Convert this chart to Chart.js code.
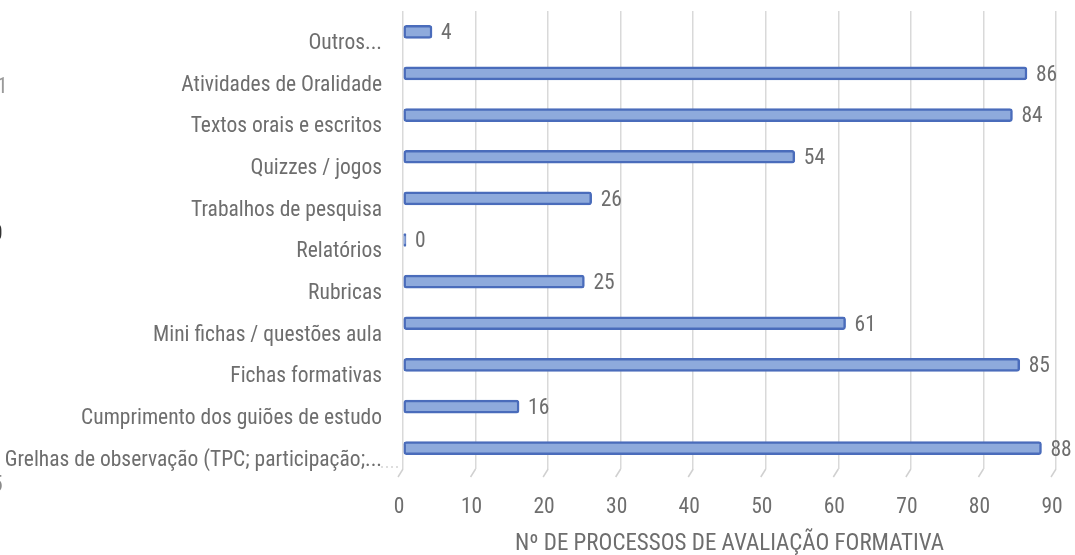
<!DOCTYPE html>
<html>
<head>
<meta charset="utf-8">
<script src="https://cdn.jsdelivr.net/npm/chart.js@4.4.0/dist/chart.umd.min.js"></script>
<style>
  html, body { margin: 0; padding: 0; background: #ffffff; }
  #wrap { width: 1075px; height: 555px; position: relative; }
</style>
</head>
<body>
<div id="wrap"><canvas id="c" width="1075" height="555"></canvas></div>
<script>
const categories = [
  "Outros...",
  "Atividades de Oralidade",
  "Textos orais e escritos",
  "Quizzes / jogos",
  "Trabalhos de pesquisa",
  "Relatórios",
  "Rubricas",
  "Mini fichas / questões aula",
  "Fichas formativas",
  "Cumprimento dos guiões de estudo",
  "Grelhas de observação (TPC; participação;..."
];
const values = [4, 86, 84, 54, 26, 0, 25, 61, 85, 16, 88];
const tickValues = [0, 10, 20, 30, 40, 50, 60, 70, 80, 90];
const axisTitle = "Nº DE PROCESSOS DE AVALIAÇÃO FORMATIVA";
const edgeFragments = [
  { text: "1", x: -3, y: 88, color: "#9a9a9a" },
  { text: "0", x: -8, y: 235, color: "#333333" },
  { text: "5", x: -8, y: 486, color: "#8a8a8a" }
];

const FONT = "'Liberation Sans Narrow', 'Arial Narrow', 'Roboto Condensed', 'Liberation Sans', sans-serif";
const TEXT = "#6e6e6e";
const FS = 21.5;

const valueLabels = {
  id: 'valueLabels',
  afterDatasetsDraw(chart) {
    const ctx = chart.ctx;
    const meta = chart.getDatasetMeta(0);
    ctx.save();
    ctx.font = FS + "px " + FONT;
    ctx.fillStyle = TEXT;
    ctx.textBaseline = 'middle';
    ctx.textAlign = 'left';
    meta.data.forEach((el, i) => {
      ctx.fillText(String(values[i]), el.x + 9, el.y + 2);
    });
    ctx.restore();
  }
};

const floorSlant = {
  id: 'floorSlant',
  beforeDatasetsDraw(chart) {
    const ctx = chart.ctx;
    const xs = chart.scales.x;
    const bottom = chart.chartArea.bottom;
    ctx.save();
    ctx.strokeStyle = '#d0d0d0';
    ctx.lineWidth = 1.5;
    tickValues.forEach(v => {
      const px = xs.getPixelForValue(v);
      ctx.beginPath();
      ctx.moveTo(px, bottom);
      ctx.lineTo(px - 5, bottom + 8);
      ctx.stroke();
    });
    ctx.setLineDash([2, 3]);
    ctx.strokeStyle = '#bdbdbd';
    ctx.lineWidth = 1;
    ctx.beginPath();
    ctx.moveTo(xs.getPixelForValue(0) - 22, bottom - 2);
    ctx.lineTo(xs.getPixelForValue(0) - 4, bottom - 2);
    ctx.stroke();
    ctx.restore();
  },
  afterDraw(chart) {
    const ctx = chart.ctx;
    ctx.save();
    ctx.font = FS + "px " + FONT;
    ctx.textBaseline = 'middle';
    ctx.textAlign = 'left';
    edgeFragments.forEach(f => {
      ctx.fillStyle = f.color;
      ctx.fillText(f.text, f.x, f.y);
    });
    ctx.restore();
  }
};

new Chart(document.getElementById('c'), {
  type: 'bar',
  data: {
    labels: categories,
    datasets: [{
      data: values,
      backgroundColor: '#8eaadc',
      borderColor: '#4a6cbb',
      borderWidth: 2.5,
      borderRadius: 3,
      borderSkipped: false,
      barThickness: 13,
      minBarLength: 3
    }]
  },
  options: {
    indexAxis: 'y',
    responsive: false,
    animation: false,
    layout: { padding: { top: 11, right: 19, left: 0, bottom: 0 } },
    plugins: {
      legend: { display: false },
      tooltip: { enabled: false }
    },
    scales: {
      x: {
        min: 0,
        max: 90,
        afterBuildTicks(scale) { scale.ticks = tickValues.map(v => ({ value: v })); },
        afterFit(scale) { scale.height = 86; scale.paddingLeft = 0; scale.paddingRight = 0; },
        grid: { color: '#d9d9d9', lineWidth: 1.5, drawTicks: false },
        border: { display: false },
        ticks: {
          color: TEXT,
          font: { family: FONT, size: FS },
          padding: 26,
          labelOffset: -4
        },
        title: {
          display: true,
          text: axisTitle,
          color: TEXT,
          font: { family: FONT, size: 23, lineHeight: 0.9 },
          padding: { top: 0, bottom: 0 }
        }
      },
      y: {
        afterFit(scale) { scale.width = 403; scale.paddingTop = 0; scale.paddingBottom = 0; },
        grid: { display: false, drawTicks: false },
        border: { display: false },
        ticks: {
          color: TEXT,
          font: { family: FONT, size: FS },
          padding: 21,
          labelOffset: 12,
          autoSkip: false
        }
      }
    }
  },
  plugins: [valueLabels, floorSlant]
});
</script>
</body>
</html>
